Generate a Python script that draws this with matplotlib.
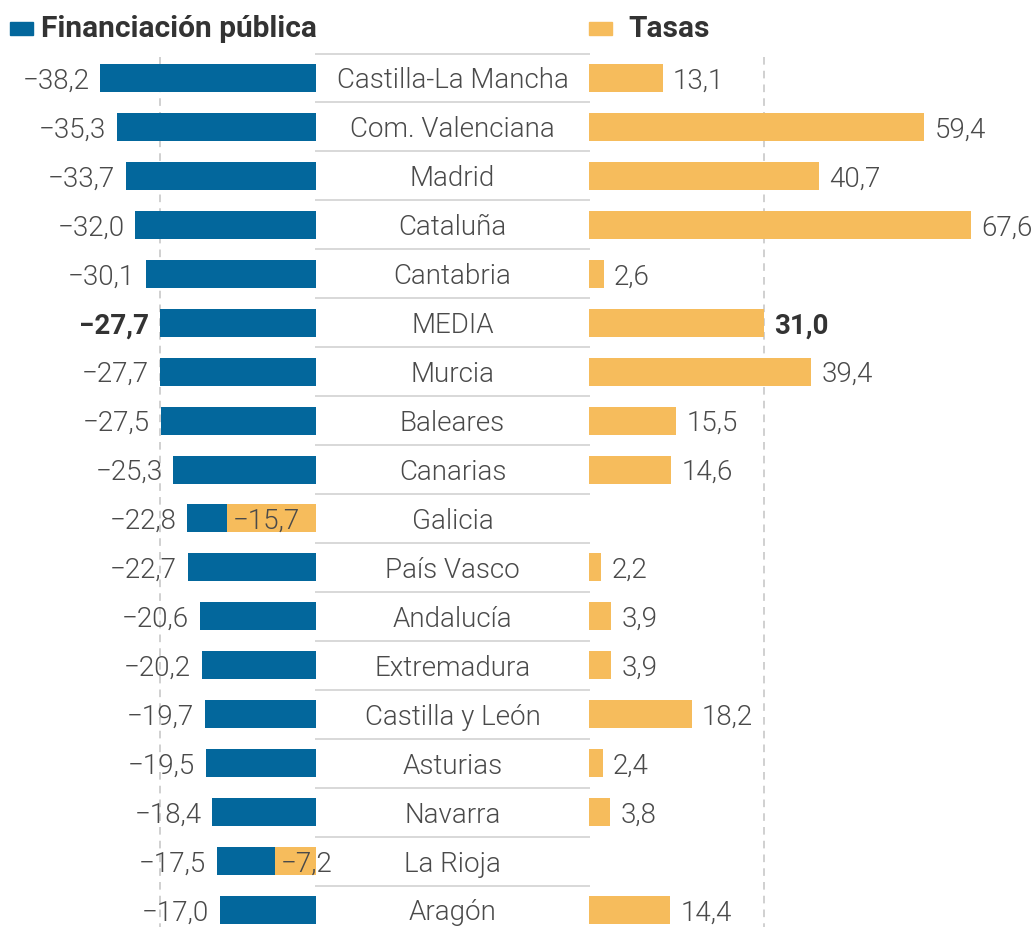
import matplotlib

matplotlib.use("Agg")
import matplotlib.pyplot as plt
from matplotlib.patches import Rectangle

regions = ["Castilla-La Mancha", "Com. Valenciana", "Madrid", "Cataluña", "Cantabria",
           "MEDIA", "Murcia", "Baleares", "Canarias", "Galicia", "País Vasco",
           "Andalucía", "Extremadura", "Castilla y León", "Asturias", "Navarra",
           "La Rioja", "Aragón"]
financiacion = [-38.2, -35.3, -33.7, -32.0, -30.1, -27.7, -27.7, -27.5, -25.3,
                -22.8, -22.7, -20.6, -20.2, -19.7, -19.5, -18.4, -17.5, -17.0]
tasas = [13.1, 59.4, 40.7, 67.6, 2.6, 31.0, 39.4, 15.5, 14.6, -15.7, 2.2,
         3.9, 3.9, 18.2, 2.4, 3.8, -7.2, 14.4]
media_fin = -27.7
media_tasas = 31.0

BLUE = "#03679C"
ORANGE = "#F6BC5C"
INK = "#4A4A4A"
TITLE = "#333333"
SEP = "#D8D8D8"
GRID = "#C4C4C4"

PX = 5.645          # pixels per unit
ZERO_L = 316        # px of left zero
ROW = 48.94         # px between rows
ROW0 = 78           # px of first row centre
W, H = 1035, 927
CENTER = (589 - ZERO_L) / PX   # width of the label column in units
FS = 20


def fmt(v):
    return f"{v:.1f}".replace(".", ",").replace("-", "\u2212")


def py(px):
    return (px - ROW0) / ROW


plt.rcParams["font.family"] = ["Roboto", "DejaVu Sans"]

fig = plt.figure(figsize=(W / 100, H / 100), dpi=100)
ax = fig.add_axes([0, 0, 1, 1])
ax.set_xlim(-ZERO_L / PX, (W - ZERO_L) / PX)
ax.set_ylim(py(H), py(0))
ax.axis("off")

n = len(regions)
ys = list(range(n))
bh = 28 / ROW

# dashed reference lines at the averages
ax.plot([media_fin, media_fin], [py(57), py(H)], color=GRID, lw=1.1,
        ls=(0, (5, 4)), zorder=0)
ax.plot([CENTER + media_tasas] * 2, [py(57), py(H)], color=GRID, lw=1.1,
        ls=(0, (5, 4)), zorder=0)

# separators in the label column
for y in ys:
    ax.plot([0, CENTER], [y - 0.5, y - 0.5], color=SEP, lw=1.4, zorder=1)

ax.barh(ys, financiacion, height=bh, color=BLUE, zorder=2)
pos = [max(t, 0) for t in tasas]
neg = [min(t, 0) for t in tasas]
ax.barh(ys, pos, left=CENTER, height=bh, color=ORANGE, zorder=2)
ax.barh(ys, neg, height=bh, color=ORANGE, zorder=3)

for y, name, f, t in zip(ys, regions, financiacion, tasas):
    bold = name == "MEDIA"
    fw = "bold" if bold else 300
    col = TITLE if bold else INK
    ax.text(CENTER / 2, y, name, ha="center", va="center_baseline",
            fontsize=FS, color=INK, fontweight=300, zorder=4)
    ax.text(f - 1.9, y, fmt(f), ha="right", va="center_baseline",
            fontsize=FS, color=col, fontweight=fw, zorder=4)
    if t >= 0:
        ax.text(CENTER + t + 1.8, y, fmt(t), ha="left", va="center_baseline",
                fontsize=FS, color=col, fontweight=fw, zorder=4)
    else:
        ax.text(t + 0.9, y, fmt(t), ha="left", va="center_baseline",
                fontsize=FS, color=INK, fontweight=300, zorder=4)

# header / legend
ax.add_patch(Rectangle((-ZERO_L / PX + 10 / PX, py(35)), 23 / PX, py(22) - py(35),
                       color=BLUE, clip_on=False))
ax.text(-ZERO_L / PX + 41 / PX, py(26), "Financiación pública", ha="left",
        va="center_baseline", fontsize=21.5, fontweight="bold", color=TITLE)
ax.add_patch(Rectangle((CENTER, py(35)), 23 / PX, py(22) - py(35),
                       color=ORANGE, clip_on=False))
ax.text(CENTER + 39 / PX, py(26), "Tasas", ha="left",
        va="center_baseline", fontsize=21.5, fontweight="bold", color=TITLE)

fig.savefig("out.png", dpi=100)
